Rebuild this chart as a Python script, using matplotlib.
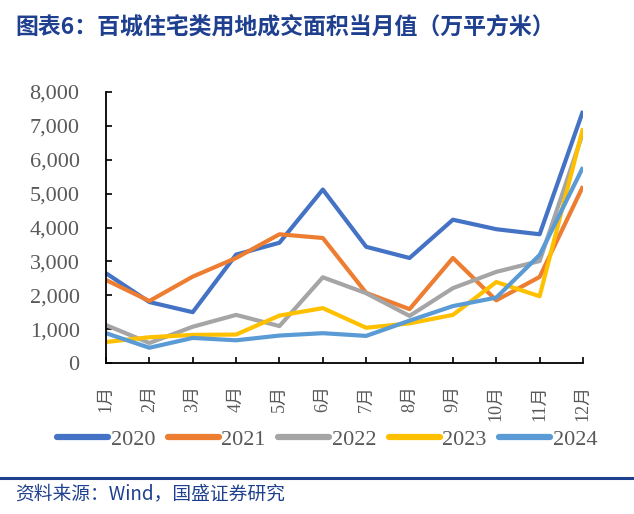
"""百城住宅类用地成交面积当月值（万平方米）, 2020-2024 by month."""
import matplotlib
matplotlib.use("Agg")
import matplotlib.pyplot as plt
from matplotlib.lines import Line2D

months = ["1月", "2月", "3月", "4月", "5月", "6月", "7月", "8月", "9月", "10月", "11月", "12月"]
years = ["2020", "2021", "2022", "2023", "2024"]
y2020 = [2650, 1800, 1500, 3200, 3550, 5120, 3430, 3100, 4230, 3950, 3800, 7440]
y2021 = [2450, 1830, 2550, 3100, 3800, 3690, 2070, 1590, 3100, 1850, 2540, 5220]
y2022 = [1120, 590, 1070, 1420, 1090, 2530, 2060, 1390, 2210, 2690, 3010, 6800]
y2023 = [620, 760, 830, 840, 1400, 1620, 1040, 1170, 1420, 2390, 1970, 6930]
y2024 = [880, 450, 740, 670, 810, 880, 800, 1250, 1680, 1930, 3190, 5780]
series = [y2020, y2021, y2022, y2023, y2024]
colors = ["#4472C4", "#ED7D31", "#A5A5A5", "#FFC000", "#5B9BD5"]

SERIF = ["Liberation Serif", "Noto Sans CJK SC", "DejaVu Sans"]
CJK = ["Noto Sans CJK SC", "DejaVu Sans"]
NAVY = "#1F3F8F"
GREY = "#595959"

fig = plt.figure(figsize=(6.34, 5.14), dpi=100)
ax = fig.add_axes([106 / 634, 1 - 363 / 514, (583 - 106) / 634, (363 - 92) / 514])

x = list(range(len(months)))
for vals, col in zip(series, colors):
    ax.plot(x, vals, color=col, linewidth=3.0, solid_capstyle="butt")

ax.set_xlim(0, 11)
ax.set_ylim(0, 8000)
ax.set_yticks(range(0, 8001, 1000))
ax.set_yticklabels([f"{v:,}" for v in range(0, 8001, 1000)], fontfamily=SERIF, fontsize=16, color=GREY)
ax.set_xticks(x)
ax.set_xticklabels(months, rotation=90, fontfamily=SERIF, fontsize=13, color=GREY, va="top")
ax.tick_params(axis="both", direction="in", length=4, width=1.2, color="black")
ax.tick_params(axis="y", pad=19)
ax.tick_params(axis="x", pad=16)
for side in ("top", "right"):
    ax.spines[side].set_visible(False)
for side in ("left", "bottom"):
    ax.spines[side].set_linewidth(1.3)
    ax.spines[side].set_color("black")

handles = [Line2D([], [], color=c, linewidth=4.5, solid_capstyle="round") for c in colors]
fig.legend(handles, years, loc="center", bbox_to_anchor=(0.516, 1 - 440 / 514), ncol=5,
           frameon=False, handlelength=2.3, handletextpad=0.12, columnspacing=0.55,
           prop={"family": SERIF, "size": 16}, labelcolor=GREY)

fig.text(15 / 634, 1 - 27 / 514, "图表6：百城住宅类用地成交面积当月值（万平方米）",
         fontfamily=CJK, fontsize=16.5, fontweight="bold", color=NAVY, va="center", ha="left")
fig.add_artist(Line2D([0, 1], [1 - 478 / 514] * 2, color="#1F3F8F", linewidth=2.2,
                      transform=fig.transFigure))
fig.text(15 / 634, 1 - 494 / 514, "资料来源：Wind，国盛证券研究",
         fontfamily=CJK, fontsize=13.5, color=NAVY, va="center", ha="left")

fig.savefig("out.png", dpi=100)
